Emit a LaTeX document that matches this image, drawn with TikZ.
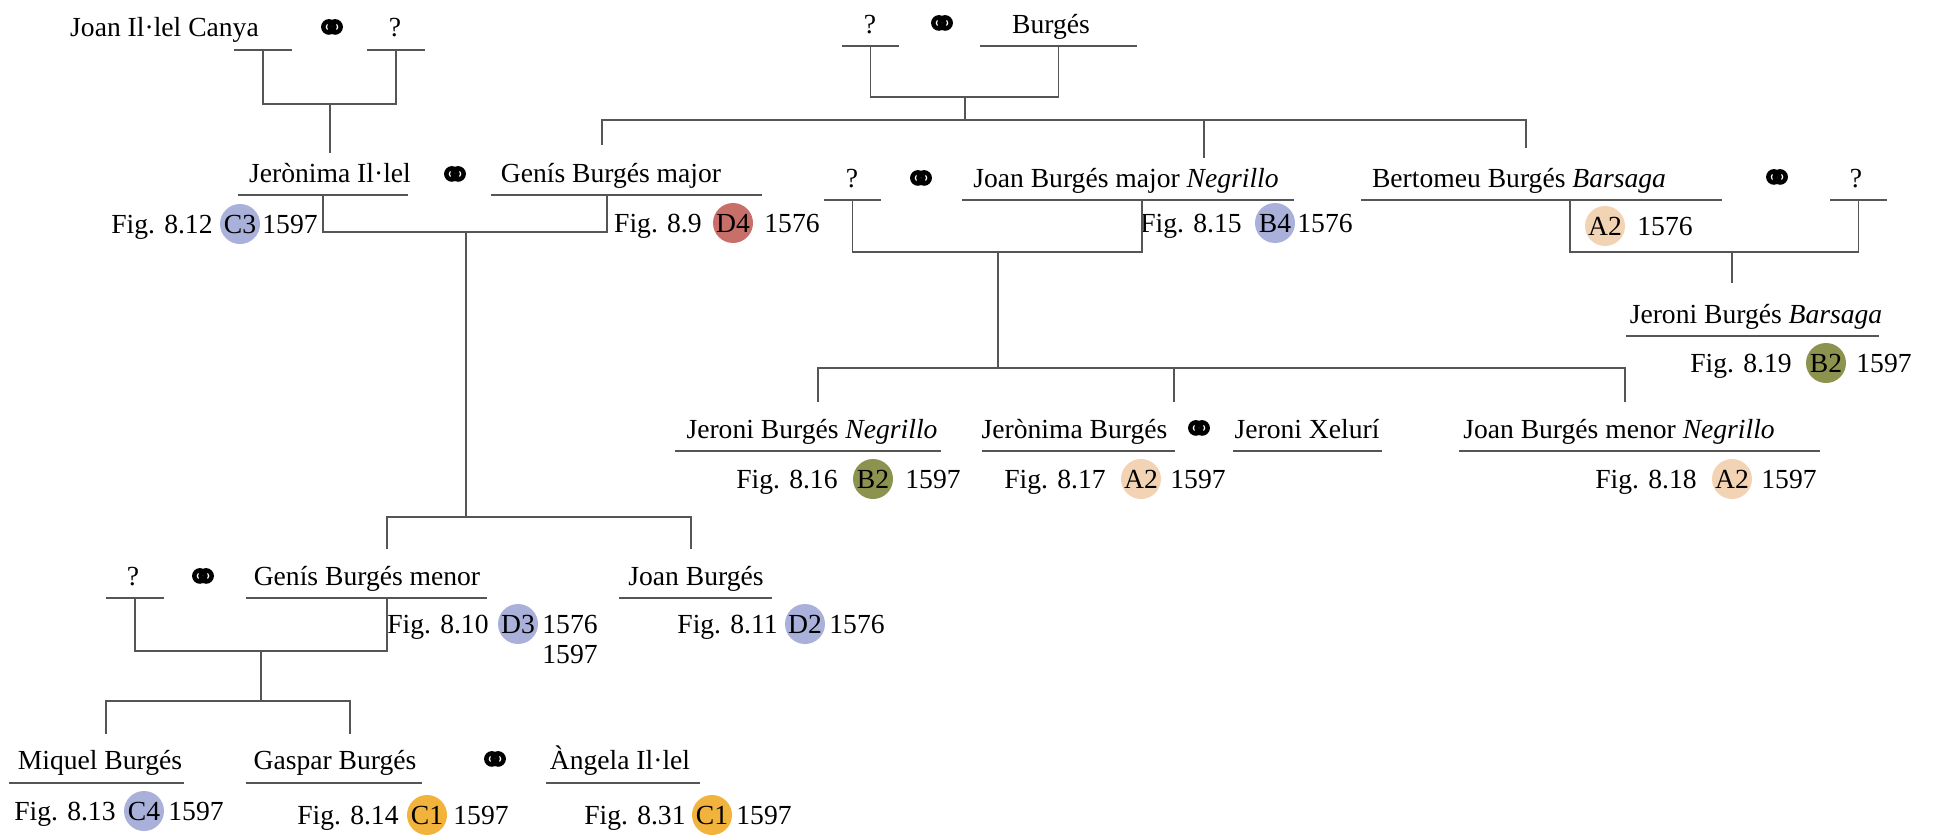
\documentclass[tikz,border=0pt]{standalone}
\usepackage{fontspec}
\setmainfont{Liberation Serif}
\newfontfamily\ringfont{DejaVu Sans}[FakeBold=3]
\usetikzlibrary{positioning}
\definecolor{tagblue}{RGB}{169,177,218}
\definecolor{tagred}{RGB}{201,111,106}
\definecolor{tagpeach}{RGB}{242,212,180}
\definecolor{tagolive}{RGB}{140,147,79}
\definecolor{tagamber}{RGB}{242,179,61}
\definecolor{treegray}{RGB}{85,85,85}

\begin{document}
\begin{tikzpicture}[x=1pt,y=-1pt,
    every node/.style={font=\fontsize{27.6}{33}\selectfont, inner sep=0pt},
    person/.style={anchor=base},
    link/.style={draw=treegray, line width=1.6pt},
    uline/.style={minimum width=#1, minimum height=0pt, outer sep=0pt,
      append after command={(\tikzlastnode.west) edge[link] (\tikzlastnode.east)}},
    ring/.style={font=\ringfont\fontsize{42}{42}\selectfont},
    badge/.style={circle, fill=#1, minimum size=40pt}]
  \path[use as bounding box, fill=white] (0,0) rectangle (1939,835);

  % first generation
  \node[person] (joanC) at (164.5,36) {Joan Il·lel Canya};
  \node[ring] (m1) at (332,31) {⚭};
  \node[person] (q1) at (395,36) {?};
  \node[uline=58] (jcU) at (263,50) {};
  \node[uline=58] (q1U) at (396,50) {};

  \node[person] (q2) at (870,33) {?};
  \node[ring] (m2) at (942,27) {⚭};
  \node[person] (burg) at (1051,33) {Burgés};
  \node[uline=57] (q2U) at (870.5,46) {};
  \node[uline=157] (bgU) at (1058.5,46) {};

  % second generation
  \node[person] (jm) at (330,182) {Jerònima Il·lel};
  \node[ring] (m3) at (455,178) {⚭};
  \node[person] (gm) at (611,182) {Genís Burgés major};
  \node[uline=170] (jmU) at (323,195) {};
  \node[uline=271] (gmU) at (626.5,195) {};
  \node[badge=tagblue] (c812) at (240,224) {C3};
  \node[base left=7pt of c812] (f812) {Fig. 8.12};
  \node[base right=2pt of c812] (y812) {1597};
  \node[badge=tagred] (c89) at (733,223) {D4};
  \node[base left=11pt of c89] (f89) {Fig. 8.9};
  \node[base right=11pt of c89] (y89) {1576};

  \node[person] (q3) at (852,187) {?};
  \node[ring] (m4) at (921,182) {⚭};
  \node[person] (jbm) at (1126,187) {Joan Burgés major \textit{Negrillo}};
  \node[uline=57] (q3U) at (852.5,200) {};
  \node[uline=332] (jbmU) at (1128,200) {};
  \node[badge=tagblue] (c815) at (1275,223) {B4};
  \node[base left=13pt of c815] (f815) {Fig. 8.15};
  \node[base right=2pt of c815] (y815) {1576};

  \node[person] (bb) at (1519,187) {Bertomeu Burgés \textit{Barsaga}};
  \node[ring] (m5) at (1777,181) {⚭};
  \node[person] (q4) at (1856,187) {?};
  \node[uline=361] (bbU) at (1541.5,200) {};
  \node[uline=57] (q4U) at (1858.5,200) {};
  \node[badge=tagpeach] (cbb) at (1605,226) {A2};
  \node[base right=12pt of cbb] (ybb) {1576};

  % third generation
  \node[person] (jbb) at (1756,323) {Jeroni Burgés \textit{Barsaga}};
  \node[uline=253] (jbbU) at (1752.5,336) {};
  \node[badge=tagolive] (c819) at (1826,363) {B2};
  \node[base left=14pt of c819] (f819) {Fig. 8.19};
  \node[base right=10pt of c819] (y819) {1597};

  \node[person] (jn) at (812,438) {Jeroni Burgés \textit{Negrillo}};
  \node[person] (jbu) at (1074.5,438) {Jerònima Burgés};
  \node[ring] (m6) at (1199,432) {⚭};
  \node[person] (jx) at (1307,438) {Jeroni Xelurí};
  \node[person] (jbmn) at (1619,438) {Joan Burgés menor \textit{Negrillo}};
  \node[uline=266] (jnU) at (808,451) {};
  \node[uline=193] (jbuU) at (1078.5,451) {};
  \node[uline=149] (jxU) at (1307.5,451) {};
  \node[uline=361] (jbmnU) at (1639.5,451) {};
  \node[badge=tagolive] (c816) at (873,479) {B2};
  \node[base left=15pt of c816] (f816) {Fig. 8.16};
  \node[base right=12pt of c816] (y816) {1597};
  \node[badge=tagpeach] (c817) at (1141,479) {A2};
  \node[base left=15pt of c817] (f817) {Fig. 8.17};
  \node[base right=9pt of c817] (y817) {1597};
  \node[badge=tagpeach] (c818) at (1732,479) {A2};
  \node[base left=15pt of c818] (f818) {Fig. 8.18};
  \node[base right=9pt of c818] (y818) {1597};

  \node[person] (q5) at (133,585) {?};
  \node[ring] (m7) at (203,580) {⚭};
  \node[person] (gmn) at (367,585) {Genís Burgés menor};
  \node[person] (jb) at (696,585) {Joan Burgés};
  \node[uline=58] (q5U) at (135,598) {};
  \node[uline=241] (gmnU) at (366.5,598) {};
  \node[uline=153] (jbU) at (695.5,598) {};
  \node[badge=tagblue] (c810) at (518,624) {D3};
  \node[base left=9pt of c810] (f810) {Fig. 8.10};
  \node[base right=4pt of c810] (y810) {1576};
  \node[anchor=base west] (y810b) at ([yshift=-30pt]y810.base west) {1597};
  \node[badge=tagblue] (c811) at (805,624) {D2};
  \node[base left=7pt of c811] (f811) {Fig. 8.11};
  \node[base right=4pt of c811] (y811) {1576};

  % fourth generation
  \node[person] (mb) at (100,769) {Miquel Burgés};
  \node[person] (gb) at (335,769) {Gaspar Burgés};
  \node[ring] (m8) at (495,763) {⚭};
  \node[person] (ai) at (620,769) {Àngela Il·lel};
  \node[uline=175] (mbU) at (96.5,783) {};
  \node[uline=176] (gbU) at (334,783) {};
  \node[uline=154] (aiU) at (623,783) {};
  \node[badge=tagblue] (c813) at (144,811) {C4};
  \node[base left=8pt of c813] (f813) {Fig. 8.13};
  \node[base right=4pt of c813] (y813) {1597};
  \node[badge=tagamber] (c814) at (427,815) {C1};
  \node[base left=8pt of c814] (f814) {Fig. 8.14};
  \node[base right=6pt of c814] (y814) {1597};
  \node[badge=tagamber] (c831) at (712,815) {C1};
  \node[base left=6pt of c831] (f831) {Fig. 8.31};
  \node[base right=4pt of c831] (y831) {1597};

  % union and drop points
  \coordinate (u1) at (330,104);
  \coordinate (d1) at (330,153);
  \coordinate (u2) at (965,97);
  \coordinate (s2) at (965,120);
  \coordinate (dgm) at (602,145);
  \coordinate (djbm) at (1204,158);
  \coordinate (dbb) at (1526,148);
  \coordinate (gmA) at (607,195);
  \coordinate (u3) at (466,232);
  \coordinate (s3) at (466,517);
  \coordinate (dgmn) at (387,549);
  \coordinate (djb) at (691,549);
  \coordinate (jbmA) at (1142,200);
  \coordinate (u4) at (998,252);
  \coordinate (s4) at (998,368);
  \coordinate (djn) at (818,402);
  \coordinate (djbu) at (1174,402);
  \coordinate (djbmn) at (1625,402);
  \coordinate (bbA) at (1570,200);
  \coordinate (u5) at (1732,252);
  \coordinate (djbb) at (1732,283);
  \coordinate (gmnA) at (387,598);
  \coordinate (u6) at (261,651);
  \coordinate (s6) at (261,701);
  \coordinate (dmb) at (106,734);
  \coordinate (dgb) at (350,734);

  % connectors
  \draw[link] (jcU) |- (u1) -| (q1U);
  \draw[link] (u1) -- (d1);
  \draw[link] (q2U) |- (u2) -| (bgU);
  \draw[link] (u2) -- (s2);
  \draw[link] (dgm) |- (s2) -| (dbb);
  \draw[link] (s2 -| djbm) -- (djbm);
  \draw[link] (jmU) |- (u3) -| (gmA);
  \draw[link] (u3) -- (s3);
  \draw[link] (dgmn) |- (s3) -| (djb);
  \draw[link] (q3U) |- (u4) -| (jbmA);
  \draw[link] (u4) -- (s4);
  \draw[link] (djn) |- (s4) -| (djbmn);
  \draw[link] (s4 -| djbu) -- (djbu);
  \draw[link] (bbA) |- (u5) -| (q4U);
  \draw[link] (u5) -- (djbb);
  \draw[link] (q5U) |- (u6) -| (gmnA);
  \draw[link] (u6) -- (s6);
  \draw[link] (dmb) |- (s6) -| (dgb);
\end{tikzpicture}
\end{document}
